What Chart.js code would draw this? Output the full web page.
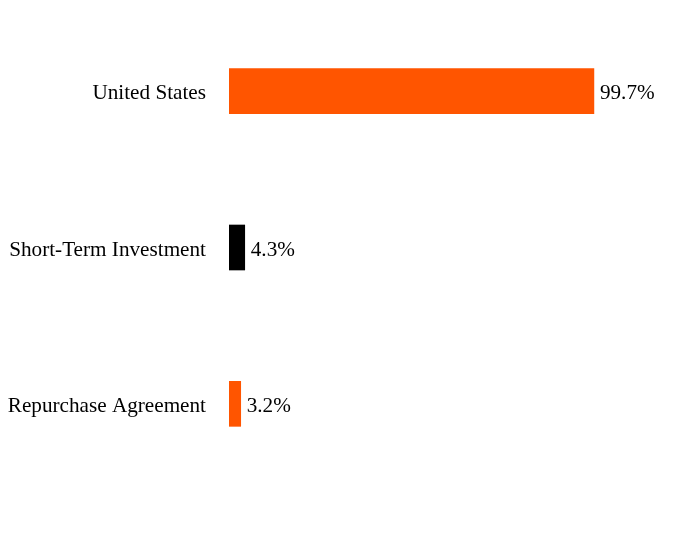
<!DOCTYPE html>
<html>
<head>
<meta charset="utf-8">
<script src="https://cdn.jsdelivr.net/npm/chart.js@4"></script>
<style>
  html, body { margin: 0; padding: 0; background: #fff; }
  #wrap { width: 696px; height: 540px; }
</style>
</head>
<body>
<div id="wrap"><canvas id="myChart" width="696" height="540"></canvas></div>
<script>
var categories = ['United States', 'Short-Term Investment', 'Repurchase Agreement'];
var values = [99.7, 4.3, 3.2];
var barColors = ['#FF5500', '#000000', '#FF5500'];

var FONT = '21.2px "Liberation Serif", "Times New Roman", serif';

// draw category names on the left and percent labels at the bar ends
var labelPlugin = {
    id: 'labelPlugin',
    afterDatasetsDraw: function (chart) {
        var ctx = chart.ctx;
        var xs = chart.scales.x;
        var ys = chart.scales.y;
        ctx.save();
        ctx.font = FONT;
        ctx.fillStyle = '#000';
        ctx.textBaseline = 'middle';
        categories.forEach(function (cat, i) {
            var y = ys.getPixelForValue(i) + 2.5;
            ctx.textAlign = 'right';
            ctx.fillText(cat, chart.chartArea.left - 23, y);
            ctx.textAlign = 'left';
            ctx.fillText(values[i].toFixed(1) + '%', xs.getPixelForValue(values[i]) + 6, y);
        });
        ctx.restore();
    }
};

new Chart(document.getElementById('myChart'), {
    type: 'bar',
    data: {
        labels: categories,
        datasets: [{
            data: values,
            backgroundColor: barColors,
            borderWidth: 0,
            barThickness: 45
        }]
    },
    options: {
        indexAxis: 'y',
        responsive: false,
        animation: false,
        layout: { padding: { left: 229, right: 101, top: 13, bottom: 58 } },
        plugins: {
            legend: { display: false },
            tooltip: { enabled: false }
        },
        scales: {
            x: { display: false, min: 0, max: 100 },
            y: { display: false }
        }
    },
    plugins: [labelPlugin]
});
</script>
</body>
</html>
